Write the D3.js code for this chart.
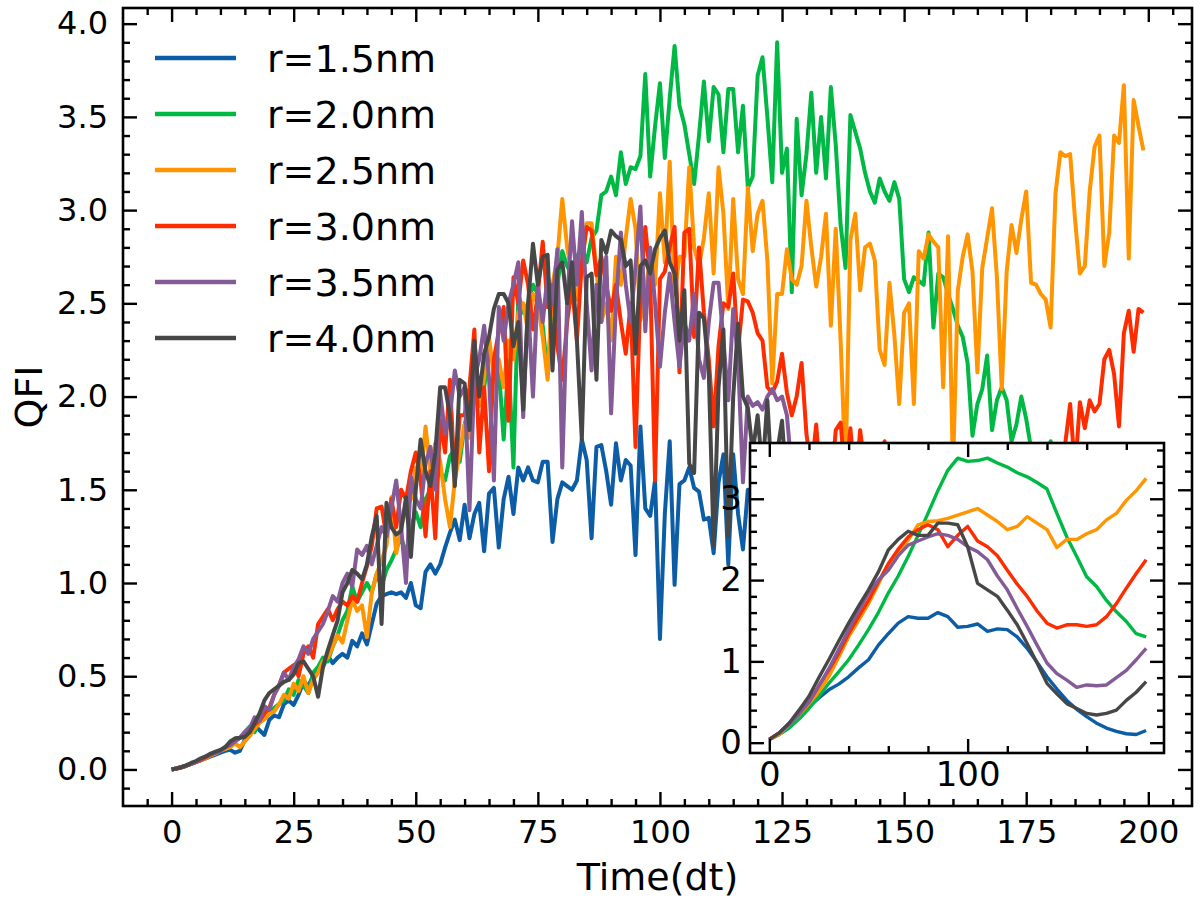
<!DOCTYPE html>
<meta charset="utf-8">
<script src="https://d3js.org/d3.v7.min.js"></script>
<style>
  body { margin: 0; background: #fff; }
  text { font-family: "DejaVu Sans"; }
</style>
<div id="chart"></div>
<script>

// time steps of the main plot
const time = d3.range(200);

// QFI per radius
const qfi15 = [
  0, 0.005, 0.012, 0.02, 0.03, 0.04, 0.05, 0.06, 0.07, 0.08,
  0.09, 0.1, 0.105, 0.09, 0.1, 0.16, 0.2, 0.24, 0.21, 0.185,
  0.265, 0.29, 0.28, 0.35, 0.37, 0.346, 0.4, 0.47, 0.45, 0.5,
  0.53, 0.55, 0.61, 0.57, 0.6, 0.62, 0.6, 0.69, 0.66, 0.73,
  0.67, 0.78, 0.89, 0.93, 0.94, 0.95, 0.94, 0.95, 0.92, 1.0,
  0.88, 0.865, 1.06, 1.1, 1.05, 1.1, 1.19, 1.27, 1.34, 1.23,
  1.42, 1.24, 1.37, 1.43, 1.17, 1.48, 1.51, 1.19, 1.45, 1.57,
  1.37, 1.62, 1.55, 1.62, 1.55, 1.54, 1.65, 1.65, 1.22, 1.45,
  1.54, 1.52, 1.5, 1.55, 1.77, 1.66, 1.24, 1.73, 1.74, 1.6,
  1.42, 1.75, 1.55, 1.66, 1.63, 1.15, 1.84, 1.4, 1.36, 1.55,
  0.7, 1.37, 1.76, 0.99, 1.53, 1.55, 1.62, 1.51, 1.49, 1.34,
  1.35, 1.16, 1.54, 1.69, 1.1, 1.69, 1.37, 1.18, 1.5, 1.4,
  1.45, 1.2, 1.5, 1.35, 1.25, 1.4, 1.1, 1.3, 1.2, 1.05,
  1.15, 1.0, 1.1, 0.95, 0.9, 1.0, 0.85, 0.8, 0.85, 0.75,
  0.75, 0.7, 0.72, 0.65, 0.6, 0.62, 0.55, 0.5, 0.52, 0.45,
  0.45, 0.42, 0.4, 0.38, 0.35, 0.35, 0.32, 0.3, 0.28, 0.27,
  0.25, 0.24, 0.22, 0.2, 0.2, 0.18, 0.17, 0.16, 0.15, 0.14,
  0.13, 0.12, 0.12, 0.11, 0.1, 0.1, 0.1, 0.1, 0.1, 0.11,
  0.11, 0.12, 0.12, 0.13, 0.13, 0.14, 0.14, 0.15, 0.15, 0.16,
  0.16, 0.16, 0.17, 0.17, 0.18, 0.18, 0.19, 0.19, 0.2, 0.2
];
const qfi20 = [
  0, 0.005, 0.012, 0.02, 0.03, 0.04, 0.05, 0.065, 0.08, 0.09,
  0.1, 0.11, 0.13, 0.15, 0.17, 0.2, 0.23, 0.2, 0.26, 0.27,
  0.3, 0.33, 0.35, 0.37, 0.43, 0.4, 0.48, 0.45, 0.41, 0.52,
  0.55, 0.6, 0.58, 0.66, 0.72, 0.8, 0.85, 0.98, 0.9, 0.95,
  1.0, 0.95, 1.05, 0.98, 1.07, 1.12, 1.18, 1.25, 1.15, 1.3,
  1.38, 1.3, 1.45, 1.5, 1.55, 1.6, 1.55, 1.68, 1.72, 1.65,
  1.85, 1.95, 2.0, 2.1, 2.05, 2.23, 2.2, 2.15, 1.77, 2.2,
  1.62, 2.55, 2.45, 2.5, 2.6, 2.55, 2.38, 2.12, 2.5, 2.6,
  2.78, 2.7, 2.65, 2.75, 2.8, 2.72, 2.85, 2.89, 3.08, 3.1,
  3.18, 3.08, 3.31, 3.14, 3.23, 3.22, 3.29, 3.73, 3.18, 3.45,
  3.68, 3.28, 3.6, 3.88, 3.56, 3.46, 3.3, 3.14, 3.4, 3.69,
  3.37, 3.66, 3.62, 3.31, 3.65, 3.65, 3.31, 3.56, 3.12, 3.18,
  3.72, 3.82, 3.5, 3.15, 3.9, 3.2, 3.33, 2.56, 3.49, 3.08,
  3.3, 3.63, 3.2, 3.5, 3.17, 3.66, 3.35, 2.92, 2.69, 3.51,
  3.42, 3.33, 3.2, 3.1, 3.04, 3.17, 3.1, 3.05, 3.15, 3.06,
  2.63, 2.56, 2.64, 2.62, 2.6, 2.88, 2.37, 2.66, 2.64, 2.55,
  2.47, 2.38, 2.32, 2.18, 1.79, 1.96, 2.04, 2.22, 1.82, 1.98,
  2.05, 1.98, 1.76, 1.85, 2.0, 1.88, 1.72, 1.6, 1.5, 1.65,
  1.76, 1.6, 1.45, 1.5, 1.35, 1.4, 1.3, 1.35, 1.25, 1.3,
  1.2, 1.3, 1.25, 1.35, 1.3, 1.4, 1.3, 1.35, 1.4, 1.3
];
const qfi25 = [
  0, 0.005, 0.012, 0.02, 0.03, 0.04, 0.05, 0.06, 0.075, 0.085,
  0.1, 0.11, 0.12, 0.14, 0.12, 0.15, 0.18, 0.22, 0.25, 0.27,
  0.3, 0.31, 0.35, 0.4, 0.38, 0.46, 0.42, 0.5, 0.41, 0.48,
  0.52, 0.58, 0.6, 0.66, 0.72, 0.68, 0.8, 0.91, 0.85, 0.88,
  0.71, 0.95, 1.05, 1.12, 1.2, 1.46, 1.16, 1.3, 1.4, 1.45,
  1.62, 1.55, 1.84, 1.6, 1.75, 1.65, 1.45, 1.3, 1.55, 1.7,
  1.85, 1.78, 2.0, 1.95, 2.1, 2.32, 2.1, 2.2, 2.05, 2.3,
  2.2, 2.45, 2.5, 2.35, 2.55, 2.5, 2.32, 2.09, 2.6, 2.75,
  3.06, 2.8, 2.65, 2.52, 2.7, 2.93, 2.93, 2.68, 2.4, 2.5,
  2.3, 2.75, 2.6, 2.85, 3.06, 2.9, 2.41, 2.55, 2.75, 2.6,
  3.09, 2.72, 3.26, 2.55, 2.75, 2.75, 3.23, 2.8, 2.7, 2.85,
  3.09, 2.66, 3.23, 2.98, 2.47, 3.06, 2.63, 2.55, 3.12, 2.78,
  2.98, 3.05, 2.73, 2.07, 2.55, 2.55, 2.79, 2.63, 2.6, 2.7,
  3.05, 2.8, 2.59, 2.75, 2.98, 2.38, 2.9, 2.3, 1.6, 2.84,
  2.98, 2.57, 2.8, 2.82, 2.73, 2.25, 2.17, 2.61, 2.33, 1.96,
  2.45, 2.5, 1.96, 2.78, 2.74, 2.87, 2.83, 2.8, 2.05, 2.86,
  1.6, 2.57, 2.75, 2.87, 2.67, 2.13, 2.69, 2.85, 3.01, 2.64,
  2.04, 2.67, 2.92, 2.77, 2.95, 3.1, 2.61, 2.6, 2.55, 2.52,
  2.37, 3.09, 3.31, 3.29, 3.3, 2.95, 2.66, 2.7, 3.1, 3.34,
  3.4, 2.7, 2.88, 3.4, 3.36, 3.67, 2.74, 3.59, 3.45, 3.32
];
const qfi30 = [
  0, 0.005, 0.012, 0.02, 0.03, 0.04, 0.05, 0.065, 0.08, 0.09,
  0.1, 0.12, 0.14, 0.16, 0.17, 0.19, 0.2, 0.24, 0.26, 0.3,
  0.33, 0.4, 0.45, 0.52, 0.54, 0.56, 0.5, 0.62, 0.66, 0.6,
  0.78, 0.82, 0.86, 0.8, 0.86, 0.9, 0.88, 0.93, 0.9, 1.0,
  1.09, 1.2, 1.4, 1.41, 1.25, 1.45, 1.3, 1.5, 1.45, 1.6,
  1.7, 1.55, 1.25, 1.6, 1.24, 1.875, 1.7, 2.09, 1.54, 1.9,
  1.9, 2.05, 2.36, 1.7, 2.05, 1.6, 2.2, 2.35, 2.48, 1.87,
  2.64, 2.5, 2.73, 2.6, 2.36, 2.55, 2.83, 2.48, 2.6, 2.27,
  2.09, 2.4, 2.6, 2.3, 2.72, 2.91, 2.89, 2.65, 2.75, 2.6,
  2.46, 2.6, 2.4, 2.23, 2.5, 1.73, 2.55, 2.91, 2.64, 1.55,
  2.63, 2.67, 2.8, 2.91, 2.13, 2.88, 2.9, 2.32, 2.8, 2.45,
  2.2, 1.84, 2.27, 2.5, 2.48, 2.66, 2.25, 2.52, 2.51, 2.45,
  2.34, 2.3, 2.05, 2.02, 2.08, 2.23, 2.02, 1.9, 2.0, 2.18,
  1.8, 1.6, 1.85, 1.5, 1.7, 1.5, 1.82, 1.86, 1.55, 1.83,
  1.5, 1.82, 1.6, 1.45, 1.5, 1.55, 1.76, 1.5, 1.4, 1.55,
  1.35, 1.5, 1.42, 1.3, 1.45, 1.5, 1.35, 1.4, 1.55, 1.3,
  1.45, 1.4, 1.5, 1.35, 1.4, 1.45, 1.3, 1.5, 1.4, 1.45,
  1.35, 1.5, 1.4, 1.45, 1.55, 1.5, 1.6, 1.45, 1.65, 1.55,
  1.6, 1.5, 1.6, 1.75, 1.96, 1.6, 1.97, 1.83, 1.98, 1.92,
  1.96, 2.2, 2.25, 2.12, 1.84, 2.34, 2.46, 2.24, 2.47, 2.45
];
const qfi35 = [
  0, 0.005, 0.012, 0.02, 0.03, 0.04, 0.055, 0.07, 0.08, 0.09,
  0.1, 0.12, 0.13, 0.15, 0.17, 0.2, 0.22, 0.28, 0.26, 0.34,
  0.32, 0.4, 0.45, 0.52, 0.48, 0.55, 0.59, 0.66, 0.62, 0.7,
  0.74, 0.78, 0.85, 0.93, 0.9, 1.0, 1.05, 0.98, 1.18, 1.15,
  1.2, 1.1, 1.2, 1.3, 1.25, 1.4, 1.55, 1.3, 1.0, 1.57,
  1.45, 1.4, 1.64, 1.73, 1.5, 2.02, 1.8, 1.9, 2.14, 2.0,
  2.05, 1.39, 2.1, 2.2, 2.38, 2.1, 1.55, 2.48, 2.3, 2.5,
  2.6, 2.72, 1.89, 2.5, 2.0, 2.6, 2.4, 2.65, 2.5, 2.79,
  1.62, 2.5, 2.94, 2.6, 2.99, 2.5, 2.14, 2.6, 2.4, 2.75,
  1.91, 2.5, 2.88, 2.6, 2.4, 2.7, 3.02, 2.35, 2.8, 2.5,
  2.16, 2.45, 2.66, 2.4, 2.16, 2.4, 2.3, 2.55, 2.2, 2.1,
  2.4, 2.61, 2.61, 2.3, 1.98, 2.47, 2.2, 1.54, 2.0, 1.95,
  1.97, 1.93, 2.0, 2.04, 1.98, 2.0, 1.9, 1.6, 1.72, 1.4,
  1.55, 1.3, 1.45, 1.2, 1.3, 1.1, 1.2, 1.0, 1.1, 0.95,
  1.0, 0.9, 0.95, 0.85, 0.9, 0.8, 0.85, 0.78, 0.82, 0.75,
  0.78, 0.7, 0.75, 0.7, 0.72, 0.68, 0.7, 0.66, 0.72, 0.68,
  0.7, 0.65, 0.72, 0.7, 0.68, 0.72, 0.7, 0.74, 0.72, 0.76,
  0.75, 0.8, 0.78, 0.84, 0.82, 0.88, 0.86, 0.9, 0.92, 0.95,
  0.97, 1.0, 1.02, 1.05, 1.08, 1.1, 1.12, 1.15, 1.18, 1.2,
  1.22, 1.25, 1.27, 1.3, 1.32, 1.35, 1.37, 1.4, 1.42, 1.45
];
const qfi40 = [
  0, 0.006, 0.012, 0.022, 0.035, 0.045, 0.06, 0.07, 0.085, 0.095,
  0.105, 0.12, 0.15, 0.167, 0.17, 0.175, 0.2, 0.25, 0.3, 0.37,
  0.41, 0.43, 0.45, 0.47, 0.48, 0.51, 0.57, 0.58, 0.54, 0.5,
  0.39, 0.55, 0.64, 0.72, 0.8, 0.95, 1.0, 1.07, 1.05, 1.02,
  1.1, 1.25, 1.36, 0.78, 1.43, 1.3, 1.26, 1.28, 1.46, 1.14,
  1.5, 1.77, 1.6, 1.52, 1.7, 2.05, 2.05, 1.9, 1.52, 2.09,
  2.07, 1.82, 2.3, 2.0, 2.23, 2.32, 2.47, 2.55, 2.55, 2.5,
  2.27, 2.4, 1.93, 2.5, 2.82, 2.6, 2.75, 2.76, 2.14, 2.68,
  2.72, 2.5, 2.72, 2.3, 1.77, 2.64, 2.66, 2.09, 2.84, 2.77,
  2.89, 2.86, 2.84, 2.7, 2.73, 2.23, 2.7, 2.73, 2.66, 2.79,
  2.85, 2.89, 2.72, 2.66, 2.3, 2.57, 1.64, 1.59, 2.45, 2.42,
  2.13, 1.2, 2.05, 2.36, 1.25, 2.0, 2.39, 2.0, 1.94, 1.7,
  1.9, 1.6, 1.98, 1.5, 1.7, 1.87, 1.5, 1.3, 1.45, 1.2,
  1.3, 1.1, 1.15, 1.0, 1.05, 0.9, 0.95, 0.82, 0.85, 0.75,
  0.78, 0.68, 0.7, 0.62, 0.65, 0.58, 0.6, 0.54, 0.55, 0.5,
  0.52, 0.47, 0.48, 0.44, 0.45, 0.42, 0.43, 0.4, 0.41, 0.38,
  0.39, 0.37, 0.38, 0.36, 0.37, 0.35, 0.36, 0.35, 0.36, 0.36,
  0.37, 0.38, 0.39, 0.4, 0.42, 0.44, 0.46, 0.48, 0.5, 0.52,
  0.55, 0.57, 0.6, 0.62, 0.65, 0.67, 0.7, 0.72, 0.75, 0.77,
  0.8, 0.82, 0.85, 0.87, 0.9, 0.92, 0.94, 0.96, 0.98, 1.0
];

// smoothed curves of the inset, one value every 5 steps
const insetTime = d3.range(0, 191, 5);
const avg15 = [0.04, 0.1, 0.2, 0.32, 0.44, 0.55, 0.65, 0.72, 0.81, 0.92, 1.02, 1.2, 1.34, 1.47, 1.55, 1.53, 1.53, 1.6, 1.55, 1.42,
  1.43, 1.46, 1.37, 1.4, 1.39, 1.3, 1.16, 0.99, 0.81, 0.66, 0.52, 0.41, 0.32, 0.24, 0.18, 0.14, 0.11, 0.1, 0.15];
const avg20 = [0.04, 0.1, 0.18, 0.29, 0.42, 0.57, 0.73, 0.87, 1.02, 1.2, 1.39, 1.6, 1.84, 2.05, 2.29, 2.55, 2.82, 3.1, 3.35, 3.5,
  3.46, 3.47, 3.5, 3.44, 3.39, 3.32, 3.27, 3.2, 3.12, 2.82, 2.53, 2.29, 2.04, 1.92, 1.75, 1.61, 1.49, 1.34, 1.3];
const avg25 = [0.04, 0.1, 0.22, 0.34, 0.48, 0.63, 0.81, 1.05, 1.3, 1.5, 1.71, 1.95, 2.2, 2.35, 2.49, 2.68, 2.72, 2.73, 2.76, 2.8,
  2.84, 2.88, 2.8, 2.72, 2.62, 2.66, 2.78, 2.7, 2.62, 2.4, 2.5, 2.5, 2.57, 2.62, 2.74, 2.82, 2.98, 3.1, 3.25];
const avg30 = [0.04, 0.12, 0.24, 0.37, 0.5, 0.7, 0.89, 1.1, 1.34, 1.55, 1.75, 1.98, 2.2, 2.38, 2.53, 2.62, 2.68, 2.62, 2.41, 2.55,
  2.66, 2.48, 2.41, 2.3, 2.12, 1.95, 1.8, 1.62, 1.47, 1.41, 1.45, 1.45, 1.43, 1.45, 1.55, 1.71, 1.9, 2.08, 2.25];
const avg35 = [0.04, 0.12, 0.22, 0.35, 0.5, 0.7, 0.91, 1.15, 1.39, 1.62, 1.84, 2.0, 2.12, 2.3, 2.43, 2.48, 2.53, 2.57, 2.55, 2.5,
  2.41, 2.35, 2.25, 2.05, 1.88, 1.65, 1.43, 1.2, 0.98, 0.85, 0.77, 0.68, 0.71, 0.7, 0.71, 0.8, 0.89, 1.02, 1.16];
const avg40 = [0.04, 0.12, 0.24, 0.4, 0.57, 0.8, 1.02, 1.25, 1.47, 1.68, 1.88, 2.1, 2.37, 2.5, 2.6, 2.55, 2.55, 2.7, 2.7, 2.68,
  2.41, 1.96, 1.88, 1.8, 1.63, 1.45, 1.22, 0.98, 0.73, 0.6, 0.48, 0.42, 0.36, 0.34, 0.36, 0.4, 0.52, 0.62, 0.75];

const labels = ["r=1.5nm", "r=2.0nm", "r=2.5nm", "r=3.0nm", "r=3.5nm", "r=4.0nm"];
const colors = ["#0C5DA5", "#00B945", "#FF9500", "#FF2C00", "#845B97", "#474747"];
const mainSeries = [qfi15, qfi20, qfi25, qfi30, qfi35, qfi40];
const insetSeries = [avg15, avg20, avg25, avg30, avg35, avg40];

const svg = d3.select("#chart").append("svg")
    .attr("width", 1200)
    .attr("height", 906);

// main axes box
const box = {l: 123, r: 1192, t: 8, b: 806};
const x = d3.scaleLinear().domain([-9.95, 208.95]).range([box.l, box.r]);
const y = d3.scaleLinear().domain([-0.196, 4.084]).range([box.b, box.t]);

// inset box
const ibox = {l: 750, r: 1164, t: 443, b: 753};
const xi = d3.scaleLinear().domain([-9.73, 199.0]).range([ibox.l, ibox.r]);
const yi = d3.scaleLinear().domain([-0.127, 3.686]).range([ibox.b, ibox.t]);

function notIn(list, step) {
  return list.filter(v => Math.abs(v / step - Math.round(v / step)) > 1e-6);
}

// inward ticks on all four sides, labels on left and bottom
function drawFrame(g, sx, sy, b, o) {
  const add = (axis, tx, ty) => g.append("g")
      .attr("transform", `translate(${tx},${ty})`)
      .call(axis)
      .call(s => s.select(".domain").remove())
      .call(s => s.selectAll("line").attr("stroke", "#000").attr("stroke-width", 2.4));
  add(d3.axisBottom(sx).tickValues(o.xMajor).tickSize(-o.major).tickPadding(o.xPad).tickFormat(o.xFmt), 0, b.b);
  add(d3.axisBottom(sx).tickValues(o.xMinor).tickSize(-o.minor).tickFormat(""), 0, b.b);
  add(d3.axisTop(sx).tickValues(o.xMajor).tickSize(-o.major).tickFormat(""), 0, b.t);
  add(d3.axisTop(sx).tickValues(o.xMinor).tickSize(-o.minor).tickFormat(""), 0, b.t);
  add(d3.axisLeft(sy).tickValues(o.yMajor).tickSize(-o.major).tickPadding(o.yPad).tickFormat(o.yFmt), b.l, 0);
  add(d3.axisLeft(sy).tickValues(o.yMinor).tickSize(-o.minor).tickFormat(""), b.l, 0);
  add(d3.axisRight(sy).tickValues(o.yMajor).tickSize(-o.major).tickFormat(""), b.r, 0);
  add(d3.axisRight(sy).tickValues(o.yMinor).tickSize(-o.minor).tickFormat(""), b.r, 0);
  g.selectAll(".tick text")
      .attr("font-family", "DejaVu Sans")
      .attr("font-size", o.fs)
      .attr("fill", "#000");
  g.append("rect")
      .attr("x", b.l).attr("y", b.t)
      .attr("width", b.r - b.l).attr("height", b.b - b.t)
      .attr("fill", "none")
      .attr("stroke", "#000")
      .attr("stroke-width", 2.6);
}

svg.append("clipPath").attr("id", "clipMain")
  .append("rect").attr("x", box.l).attr("y", box.t).attr("width", box.r - box.l).attr("height", box.b - box.t);
svg.append("clipPath").attr("id", "clipInset")
  .append("rect").attr("x", ibox.l).attr("y", ibox.t).attr("width", ibox.r - ibox.l).attr("height", ibox.b - ibox.t);

// main lines
const line = d3.line().x((d, i) => x(time[i])).y(d => y(d));
svg.append("g").attr("clip-path", "url(#clipMain)")
  .selectAll("path")
  .data(mainSeries)
  .join("path")
    .attr("d", line)
    .attr("fill", "none")
    .attr("stroke", (d, i) => colors[i])
    .attr("stroke-width", 4)
    .attr("stroke-linejoin", "round");

drawFrame(svg.append("g"), x, y, box, {
  xMajor: d3.range(0, 201, 25),
  xMinor: notIn(d3.range(-5, 206, 5), 25),
  yMajor: d3.range(0, 4.01, 0.5),
  yMinor: notIn(d3.range(-1, 41).map(v => v / 10), 0.5),
  major: 14, minor: 7, xPad: 14, yPad: 15,
  xFmt: d3.format("d"), yFmt: d3.format(".1f"), fs: 32
});

// axis titles
svg.append("text")
    .attr("x", (box.l + box.r) / 2)
    .attr("y", 890)
    .attr("text-anchor", "middle")
    .attr("font-size", 38)
    .text("Time(dt)");
svg.append("text")
    .attr("transform", "translate(42,397) rotate(-90)")
    .attr("text-anchor", "middle")
    .attr("font-size", 38)
    .text("QFI");

// legend
const legend = svg.append("g");
labels.forEach((lab, i) => {
  const ly = 58 + i * 56;
  legend.append("line")
      .attr("x1", 155).attr("x2", 236)
      .attr("y1", ly).attr("y2", ly)
      .attr("stroke", colors[i])
      .attr("stroke-width", 4.5);
  legend.append("text")
      .attr("x", 267).attr("y", ly)
      .attr("dy", "0.36em")
      .attr("font-size", 38)
      .text(lab);
});

// inset
const inset = svg.append("g");
inset.append("rect")
    .attr("x", ibox.l).attr("y", ibox.t)
    .attr("width", ibox.r - ibox.l).attr("height", ibox.b - ibox.t)
    .attr("fill", "#fff");
const iline = d3.line().x((d, i) => xi(insetTime[i])).y(d => yi(d));
inset.append("g").attr("clip-path", "url(#clipInset)")
  .selectAll("path")
  .data(insetSeries)
  .join("path")
    .attr("d", iline)
    .attr("fill", "none")
    .attr("stroke", (d, i) => colors[i])
    .attr("stroke-width", 3.4)
    .attr("stroke-linejoin", "round");

drawFrame(inset.append("g"), xi, yi, ibox, {
  xMajor: [0, 100],
  xMinor: [20, 40, 60, 80, 120, 140, 160, 180],
  yMajor: [0, 1, 2, 3],
  yMinor: notIn(d3.range(1, 19).map(v => v / 5), 1),
  major: 14, minor: 7, xPad: 9, yPad: 8,
  xFmt: d3.format("d"), yFmt: d3.format("d"), fs: 34
});

</script>
